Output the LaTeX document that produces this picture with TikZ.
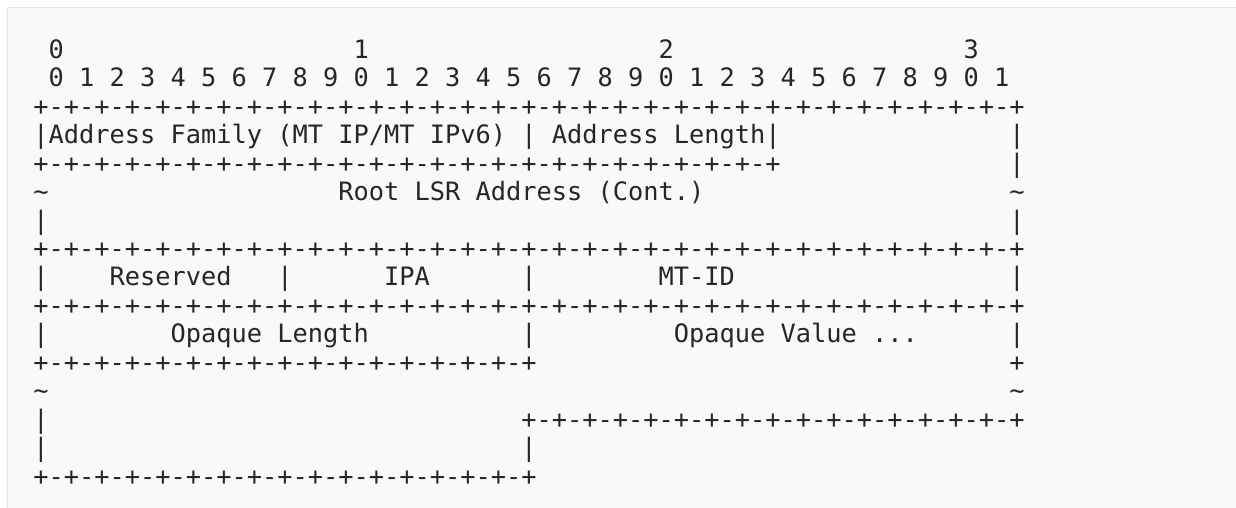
\documentclass[tikz,border=0pt]{standalone}
\usepackage{fontspec}
\newfontfamily\monofam{DejaVu Sans Mono}
\definecolor{bgcol}{HTML}{F9F9F9}
\definecolor{edgecol}{HTML}{E6E6E6}
\definecolor{txtcol}{HTML}{262626}
\newlength\chw
\setlength\chw{15.25pt}
\newcommand\blank[1]{\hspace*{\dimexpr #1\chw\relax}}
\newcount\brdcnt
\newcommand\brd[1]{+\brdcnt=#1\relax\loop\ifnum\brdcnt>0 -+\advance\brdcnt by -1 \repeat}
\newcommand\tld{\textasciitilde}
\tikzset{
  asciiline/.style={anchor=base west, inner sep=0pt, outer sep=0pt, text=txtcol,
    font=\monofam\fontsize{25.33}{28}\selectfont\frenchspacing}
}
\begin{document}
\begin{tikzpicture}[x=1pt,y=-1pt]
\useasboundingbox (0,0) rectangle (1236,508);
\fill[white] (0,0) rectangle (1236,508);
\filldraw[fill=bgcol, draw=edgecol, line width=1.5pt] (7.5,7.5) rectangle (1245,520);
\def\xo{33.4}
\def\yb#1{58.3+(#1-1)*28.46}
\node[asciiline] (l1)  at (\xo,{\yb{1}})  {\blank{1}0\blank{19}1\blank{19}2\blank{19}3};
\node[asciiline] (l2)  at (\xo,{\yb{2}})  {\blank{1}0 1 2 3 4 5 6 7 8 9 0 1 2 3 4 5 6 7 8 9 0 1 2 3 4 5 6 7 8 9 0 1};
\node[asciiline] (l3)  at (\xo,{\yb{3}})  {\brd{32}};
\node[asciiline] (l4)  at (\xo,{\yb{4}})  {|Address Family (MT IP/MT IPv6) | Address Length|\blank{15}|};
\node[asciiline] (l5)  at (\xo,{\yb{5}})  {\brd{24}\blank{15}|};
\node[asciiline] (l6)  at (\xo,{\yb{6}})  {\tld\blank{19}Root LSR Address (Cont.)\blank{20}\tld};
\node[asciiline] (l7)  at (\xo,{\yb{7}})  {|\blank{63}|};
\node[asciiline] (l8)  at (\xo,{\yb{8}})  {\brd{32}};
\node[asciiline] (l9)  at (\xo,{\yb{9}})  {|\blank{4}Reserved\blank{3}|\blank{6}IPA\blank{6}|\blank{8}MT-ID\blank{18}|};
\node[asciiline] (l10) at (\xo,{\yb{10}}) {\brd{32}};
\node[asciiline] (l11) at (\xo,{\yb{11}}) {|\blank{8}Opaque Length\blank{10}|\blank{9}Opaque Value ...\blank{6}|};
\node[asciiline] (l12) at (\xo,{\yb{12}}) {\brd{16}\blank{31}+};
\node[asciiline] (l13) at (\xo,{\yb{13}}) {\tld\blank{63}\tld};
\node[asciiline] (l14) at (\xo,{\yb{14}}) {|\blank{31}\brd{16}};
\node[asciiline] (l15) at (\xo,{\yb{15}}) {|\blank{31}|};
\node[asciiline] (l16) at (\xo,{\yb{16}}) {\brd{16}};
\end{tikzpicture}
\end{document}
